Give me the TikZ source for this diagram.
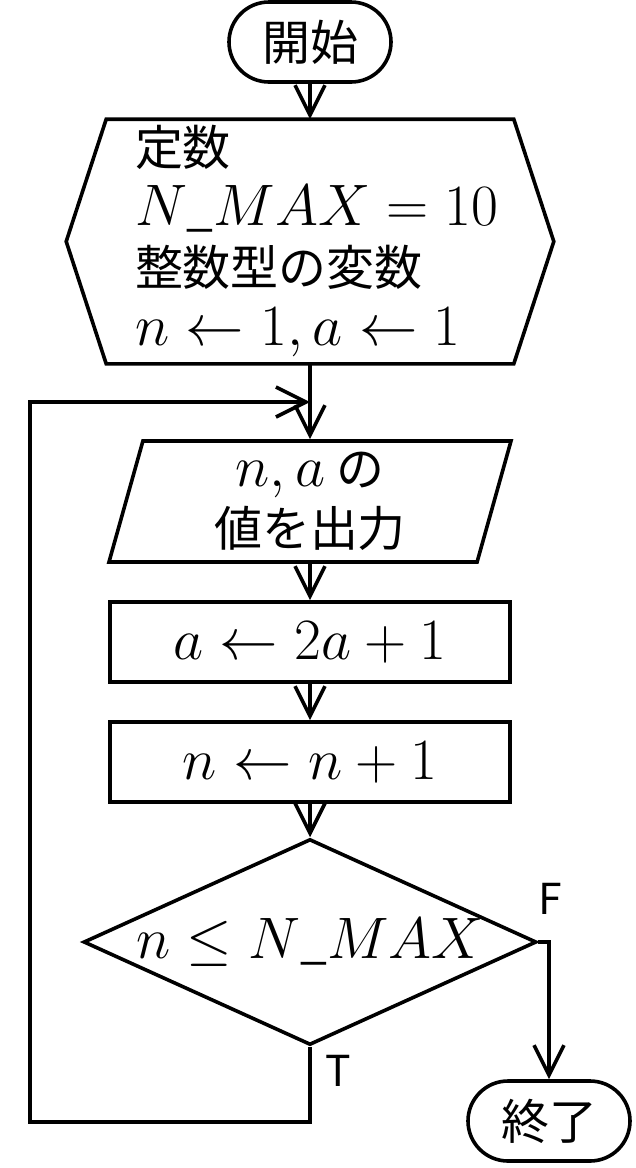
\RequirePackage{fix-cm}
\documentclass[tikz,border=0pt]{standalone}
\usepackage[no-math]{fontspec}
\setmainfont[Scale=0.82]{Noto Sans CJK JP}
\usetikzlibrary{positioning,shapes.geometric,shapes.misc,arrows.meta}

\begin{document}
\begin{tikzpicture}[
	x=1pt, y=-1pt, % pixel-like units, downwards
	font=\fontsize{58.5}{60}\selectfont,
	line width=3.6pt,
	% Style for the start/end terminals
	term node/.style={
		rounded rectangle,
		draw,
		minimum width=162pt,
		minimum height=80pt,
		inner sep=0pt
	},
	% Style for the process boxes
	proc node/.style={
		rectangle,
		draw,
		minimum width=400pt,
		minimum height=80pt,
		inner sep=0pt
	},
	% Style for the output box
	io node/.style={
		trapezium,
		trapezium left angle=71,
		trapezium right angle=109,
		trapezium stretches body,
		draw,
		align=center,
		minimum width=402pt,
		minimum height=121pt,
		inner sep=0pt
	},
	% Style for the test
	dec node/.style={
		diamond,
		aspect=2.2,
		draw,
		minimum width=440pt,
		minimum height=200pt,
		inner sep=0pt
	},
	% Style for the T/F marks
	label text/.style={
		font=\fontsize{52}{52}\selectfont,
		inner sep=0pt
	},
	% Style for the connecting lines
	edge/.style={
		draw,
		-{Straight Barb[length=30pt,width=30pt]}
	}
	]
	\useasboundingbox (0,0) rectangle (636,1168);
	
	% 1. Define Node Positions (top to bottom)
	\node[term node] (start) at (310,42) {開始};
	
	% Preparation (hexagon drawn round a plain node)
	\node[text width=350pt, align=left, inner sep=0pt,
		minimum width=404pt, minimum height=241pt] (init) at (310,241.5)
		{定数\\ \mbox{$N\_MAX=10$}\\ 整数型の変数\\ \mbox{$n\leftarrow 1, a\leftarrow 1$}};
	\draw (init.north west) -- (init.north east) -- ([xshift=40pt]init.east)
		-- (init.south east) -- (init.south west) -- ([xshift=-40pt]init.west) -- cycle;
	
	\node[io node] (out) at (310,501.5) {$n, a$ の\\ 値を出力};
	\node[proc node] (upa) at (310,642) {$a\leftarrow 2a+1$};
	\node[proc node] (upn) at (310,762) {$n\leftarrow n+1$};
	\node[dec node] (check) at (310,942) {$n\leq N\_MAX$};
	\node[term node] (stop) at (549,1121) {終了};
	
	% Loop corners
	\coordinate (join) at (310,402);
	\coordinate (loop bl) at (30,1122);
	\coordinate (loop tl) at (30,402);
	
	% Branch marks
	\node[label text] (markF) at (550,899) {F};
	\node[label text] (markT) at (338,1071) {T};
	
	% 2. Draw Edges connecting the nodes
	\draw[edge] (start.south) -- (init.north);
	\draw[edge] (init.south) -- (out.north);
	\draw[edge] (out.south) -- (upa.north);
	\draw[edge] (upa.south) -- (upn.north);
	\draw[edge] (upn.south) -- (check.north);
	
	% False branch to the end
	\draw[edge] (check.east) -| (stop.north);
	
	% True branch back to the top of the loop
	\draw[edge] (check.south) |- (loop bl) -- (loop tl) -- (join);
	
\end{tikzpicture}
\end{document}
